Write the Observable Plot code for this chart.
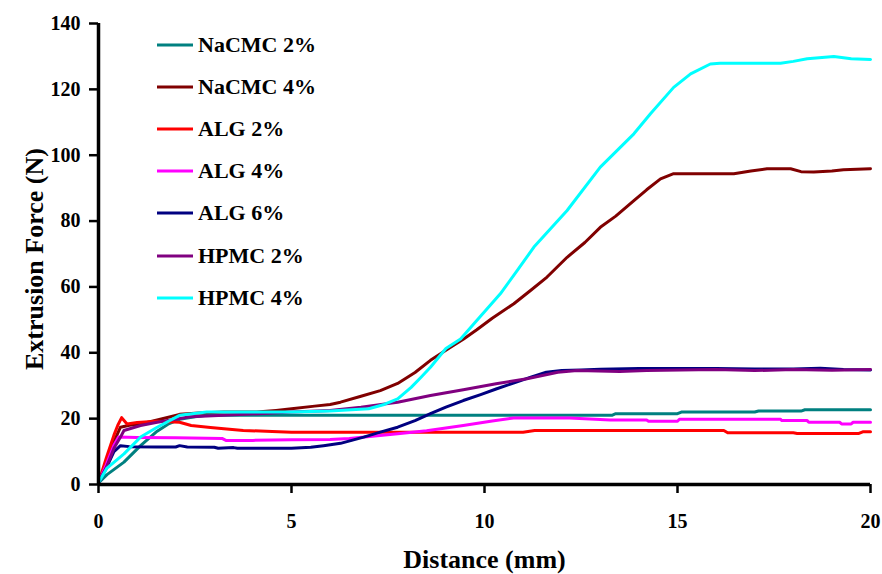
<!DOCTYPE html>
<html>
<head>
<meta charset="utf-8">
<script src="https://cdn.jsdelivr.net/npm/d3@7"></script>
<script src="https://cdn.jsdelivr.net/npm/@observablehq/plot@0.6"></script>
<style>
  body { margin: 0; background: white; }
  #wrap { position: relative; width: 882px; height: 574px; overflow: hidden; }
  #legend { position: absolute; left: 157px; top: 24px; font-family: "Liberation Serif", "DejaVu Serif", Times, serif; font-weight: bold; font-size: 22px; color: black; }
  .row { display: flex; align-items: center; height: 42.1px; }
  .row svg { margin-right: 5px; }
</style>
</head>
<body>
<div id="wrap"><div id="legend"></div></div>
<script>
const seriesNames = ["NaCMC 2%", "NaCMC 4%", "ALG 2%", "ALG 4%", "ALG 6%", "HPMC 2%", "HPMC 4%"];
const seriesColors = ["#008080", "#800000", "#FF0000", "#FF00FF", "#000080", "#800080", "#00FFFF"];
const xTicks = [0, 5, 10, 15, 20];
const yTicks = [0, 20, 40, 60, 80, 100, 120, 140];

// [distance (mm), force (N)]
const naCMC2 = [[0,0.5],[0.22,3],[0.66,6.8],[1.09,11.8],[1.52,16.2],[1.8,18.3],[2.1,19.8],[2.5,20.6],[2.8,21],[4,21],[6,21],[8,21],[10,21],[12,21],[13.3,21],[13.4,21.5],[15,21.5],[15.1,22],[17,22],[17.1,22.3],[18.2,22.3],[18.3,22.7],[20,22.7]];
const naCMC4 = [[0,0.5],[0.2,6],[0.4,13],[0.57,17.4],[0.8,18],[1.09,18.4],[1.6,19.8],[2.1,21.3],[2.6,21.7],[3.25,22],[4.1,22],[4.6,22.5],[5,23],[5.6,23.8],[6,24.3],[6.27,25],[6.8,26.8],[7.3,28.5],[7.75,30.7],[8.2,34],[8.6,37.7],[9.1,41.5],[9.46,44.2],[9.8,47],[10.2,50.5],[10.76,54.9],[11.2,59],[11.62,63],[12.14,69],[12.6,73.5],[13.0,78.1],[13.4,81.5],[13.87,86.2],[14.2,89.5],[14.56,92.8],[14.9,94.4],[15.5,94.4],[16.46,94.4],[16.9,95.2],[17.32,95.9],[17.93,95.9],[18.2,95],[18.53,94.9],[19.0,95.2],[19.3,95.6],[20,95.9]];
const alg2 = [[0,0.5],[0.2,8],[0.4,15],[0.5,18],[0.6,20.3],[0.74,18.4],[1.0,18.8],[1.5,19.2],[2.1,18.9],[2.4,17.9],[2.9,17.3],[3.25,16.9],[3.75,16.4],[4.5,16.1],[5,15.9],[8,15.9],[11,15.9],[11.3,16.4],[13,16.4],[16.2,16.4],[16.3,15.7],[18,15.7],[18.1,15.5],[19.7,15.5],[19.8,16],[20,16]];
const alg4 = [[0,0.5],[0.2,6],[0.4,12],[0.52,14.4],[1,14.3],[2,14.2],[3.2,14],[3.3,13.4],[4,13.4],[5,13.6],[6,13.7],[6.5,14],[7.75,15.4],[8.5,16.3],[9.45,17.9],[10.2,19.3],[10.75,20.2],[12.2,20.2],[13.26,19.6],[14.2,19.6],[14.25,19.2],[15.0,19.2],[15.05,19.8],[17.67,19.8],[17.7,19.4],[18.36,19.4],[18.4,18.9],[19.2,18.9],[19.25,18.4],[19.5,18.4],[19.55,18.9],[20,18.9]];
const alg6 = [[0,0.5],[0.2,5],[0.4,10],[0.57,11.8],[0.8,11.5],[1.5,11.4],[2.0,11.4],[2.1,11.8],[2.3,11.4],[3.0,11.3],[3.1,11.0],[3.5,11.2],[3.6,11.0],[5,11.0],[5.5,11.3],[5.83,11.8],[6.27,12.5],[6.87,14.4],[7.3,15.9],[7.75,17.4],[8.2,19.4],[8.6,21.5],[9.0,23.5],[9.45,25.5],[9.9,27.3],[10.3,29],[10.75,30.8],[11.2,32.6],[11.6,34.1],[12.0,34.6],[12.5,34.8],[13,35],[14,35.2],[15,35.2],[16,35.2],[17,35.1],[18,35.1],[18.7,35.3],[19.3,34.9],[20,34.8]];
const hpmc2 = [[0,0.5],[0.2,5],[0.4,11],[0.57,14.4],[0.66,16.4],[1.09,17.9],[1.52,18.9],[2.38,20.6],[3.25,21],[5,22],[6,22.5],[6.8,23.5],[7.75,25],[8.6,27],[9.45,28.8],[10.3,30.6],[11.1,32.1],[11.9,34.1],[12.4,34.6],[13.5,34.3],[14.2,34.6],[16,34.9],[17,34.6],[18,34.9],[19,34.7],[20,34.9]];
const hpmc4 = [[0,0.5],[0.22,5],[0.66,9.3],[1.09,14.4],[1.52,17.4],[2.1,21],[2.8,22],[4,22],[5,22],[6,22.3],[7.0,23],[7.4,24.3],[7.75,26],[8.1,29.5],[8.35,32.5],[8.6,35.6],[9.0,41.3],[9.38,44.2],[9.8,49.8],[10.41,57.9],[10.85,65],[11.28,72.1],[12.14,83.2],[13.0,96.4],[13.87,106.5],[14.3,112.6],[14.9,120.6],[15.34,124.7],[15.85,127.7],[16.1,127.9],[17.67,127.9],[18,128.5],[18.36,129.3],[19.05,130],[19.5,129.3],[20,129.1]];

const seriesData = [naCMC2, naCMC4, alg2, alg4, alg6, hpmc2, hpmc4];
const table = seriesData.flatMap((pts, i) => pts.map(([x, y]) => ({series: seriesNames[i], x, y})));

const font = "'Liberation Serif', 'DejaVu Serif', Times, serif";

const chart = Plot.plot({
  width: 882,
  height: 574,
  marginLeft: 98,
  marginRight: 12,
  marginTop: 23,
  marginBottom: 90,
  style: {fontFamily: font, fontWeight: "bold", fontSize: "20px", color: "black", background: "white"},
  x: {domain: [0, 20]},
  y: {domain: [0, 140]},
  color: {domain: seriesNames, range: seriesColors},
  marks: [
    Plot.line(table, {x: "x", y: "y", z: "series", stroke: "series", strokeWidth: 3, curve: "linear"}),
    Plot.axisX({ticks: xTicks, tickSize: 9, tickPadding: 20, strokeWidth: 2.5, label: null, fontSize: 20, fontWeight: "bold", fontFamily: font}),
    Plot.axisY({ticks: yTicks, tickSize: 9, tickPadding: 9, strokeWidth: 2.5, label: null, fontSize: 20, fontWeight: "bold", fontFamily: font}),
    Plot.ruleY([0], {stroke: "black", strokeWidth: 3.5}),
    Plot.ruleX([0], {stroke: "black", strokeWidth: 3.5}),
    Plot.text(["Distance (mm)"], {text: d => d, frameAnchor: "bottom", dy: 75, fontSize: 26, fontWeight: "bold", fontFamily: font, lineAnchor: "middle", textAnchor: "middle"}),
    Plot.text(["Extrusion Force (N)"], {text: d => d, frameAnchor: "left", dx: -64, dy: 5, rotate: -90, fontSize: 26, fontWeight: "bold", fontFamily: font, lineAnchor: "middle", textAnchor: "middle"})
  ]
});

const wrap = document.getElementById("wrap");
wrap.insertBefore(chart, wrap.firstChild);

const legend = document.getElementById("legend");
seriesNames.forEach((name, i) => {
  const row = document.createElement("div");
  row.className = "row";
  row.innerHTML = `<svg width="36" height="6"><line x1="0" x2="36" y1="3" y2="3" stroke="${seriesColors[i]}" stroke-width="3"/></svg><span>${name}</span>`;
  legend.appendChild(row);
});
</script>
</body>
</html>
